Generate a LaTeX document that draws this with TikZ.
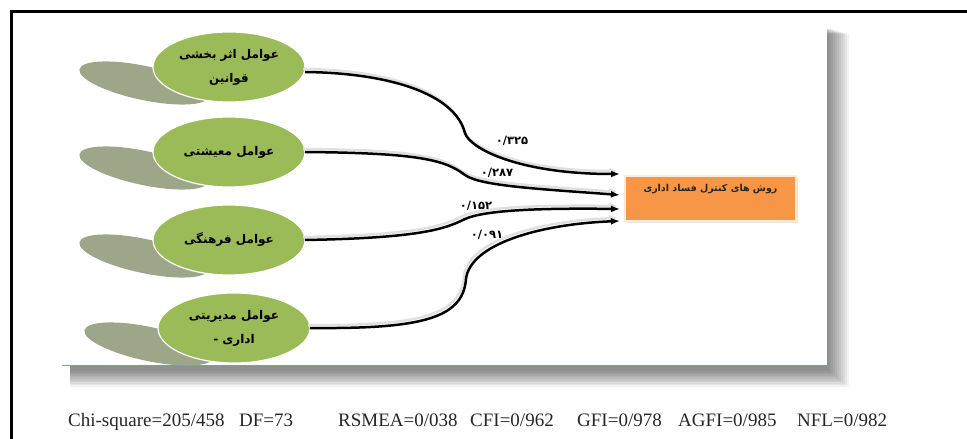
\documentclass[tikz,border=0pt]{standalone}
\usepackage{fontspec}
\setmainfont{Liberation Serif}
\newfontfamily\arabicfont[Script=Arabic]{DejaVu Sans}
\TeXXeTstate=1
\usetikzlibrary{arrows.meta}
\usetikzlibrary{shapes.geometric}
\usetikzlibrary{shadows}
\definecolor{factorgreen}{RGB}{155,187,89}
\definecolor{shadegreen}{RGB}{158,166,138}
\definecolor{boxorange}{RGB}{247,150,70}
\definecolor{paneledge}{RGB}{130,150,180}
\tikzset{
  factor/.style = {ellipse, fill=factorgreen, draw=white, line width=1.2pt,
    minimum width=152pt, minimum height=70pt, inner sep=0, outer sep=0,
    align=center, font=\arabicfont\bfseries\fontsize{12}{24}\selectfont},
  blob/.style = {fill=shadegreen},
  outcome/.style = {rectangle, fill=boxorange, draw={rgb,255:red,250;green,236;blue,215},
    line width=1.2pt, minimum width=171pt, minimum height=45pt, outer sep=0,
    text height=8pt, text depth=22pt, text=black!85,
    drop shadow={shadow xshift=2pt, shadow yshift=-2pt, fill=black!20},
    font=\arabicfont\bfseries\fontsize{9.5}{11}\selectfont},
  weight/.style = {inner sep=1pt, font=\arabicfont\bfseries\fontsize{11.5}{13}\selectfont},
  link/.style = {line width=2.5pt, -{Latex[length=9pt,width=7pt]}},
  stat/.style = {anchor=base west, inner sep=0, text=black!85,
    font=\fontsize{19}{22}\selectfont}
}
\begin{document}
\begin{tikzpicture}[x=1pt,y=1pt]
  \useasboundingbox (0,0) rectangle (967,439);
  % frame
  \draw[line width=3pt] (11,0) -- (11,427) -- (967,427);
  % panel and its shadow
  \foreach \r in {0,2,...,20}
    \fill[black, opacity=0.05] (70,68-0.8*\r) rectangle (829+\r,411-0.3*\r);
  \fill[white] (62,74) rectangle (827,419);
  \draw[paneledge, line width=0.8pt] (62,74) -- (827,74);
  % shadows of the factors
  \foreach \x/\y in {144/356, 144/271, 144/183, 149/95}
    \fill[blob, rotate around={-12:(\x,\y)}] (\x,\y) ellipse (66 and 17);
  % factors
  \node[factor] (f1) at (229,372) {\beginR عوامل اثر بخشی\endR\\\beginR قوانین\endR};
  \node[factor] (f2) at (229,287) {\beginR عوامل معیشتی\endR};
  \node[factor] (f3) at (229,199) {\beginR عوامل فرهنگی\endR};
  \node[factor] (f4) at (234,111) {\beginR عوامل مدیریتی\endR\\\beginR اداری -\endR};
  % outcome
  \node[outcome] (ctrl) at (710.5,240.5) {\beginR روش های کنترل فساد اداری\endR};
  % paths
  \foreach \dx/\dy/\col in {-2/3/black!12, 0/0/black}{
    \begin{scope}[transform canvas={shift={(\dx,\dy)}}]
      \draw[link, color=\col] ([yshift=-5pt]f1.east) .. controls (390,366) and (455,345) .. (465,306)
        .. controls (470,290) and (520,265) .. ([xshift=-5pt,yshift=2pt]ctrl.north west);
      \draw[link, color=\col] (f2.east) .. controls (420,286) and (445,279) .. (465,264)
        .. controls (480,253) and (540,250) .. ([xshift=-5pt,yshift=3.5pt]ctrl.west);
      \draw[link, color=\col] (f3.east) .. controls (420,201) and (445,210) .. (465,220)
        .. controls (485,229) and (540,231) .. ([xshift=-5pt,yshift=-10.5pt]ctrl.west);
      \draw[link, color=\col] (f4.east) .. controls (420,110) and (463,120) .. (466,160)
        .. controls (470,195) and (540,215) .. ([xshift=-5pt]ctrl.south west);
    \end{scope}
  }
  % weights
  \node[weight] (w1) at (512,298) {۰/۳۲۵};
  \node[weight] (w2) at (497,266) {۰/۲۸۷};
  \node[weight] (w3) at (476,233) {۰/۱۵۲};
  \node[weight] (w4) at (487,204) {۰/۰۹۱};
  % fit indices
  \foreach \x/\t [count=\i] in {68/{Chi-square=205/458}, 239/{DF=73}, 338/{RSMEA=0/038},
      470/{CFI=0/962}, 577/{GFI=0/978}, 678/{AGFI=0/985}, 797/{NFL=0/982}}
    \node[stat] (stat\i) at (\x,12) {\t};
\end{tikzpicture}
\end{document}
